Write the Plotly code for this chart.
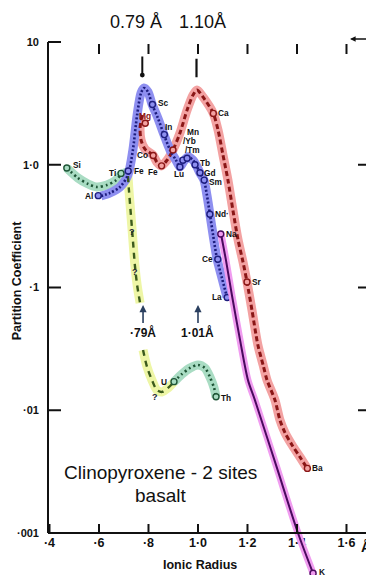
import math
import plotly.graph_objects as go

# ---------------- data (ionic radius in Å, partition coefficient) ----------------
blue_x = [0.608, 0.644, 0.685, 0.717, 0.737, 0.754, 0.770, 0.782, 0.798, 0.814, 0.838, 0.863,
          0.887, 0.911, 0.927, 0.943, 0.960, 0.980, 0.992, 1.008, 1.024, 1.036, 1.048, 1.061,
          1.077, 1.097, 1.117]
blue_y = [0.556, 0.589, 0.659, 0.826, 1.32, 2.54, 3.85, 4.22, 3.92, 3.13, 2.40, 1.75,
          1.32, 1.09, 0.96, 1.07, 1.16, 1.09, 1.00, 0.857, 0.751, 0.567, 0.397, 0.268,
          0.171, 0.119, 0.0837]

red_x = [0.774, 0.766, 0.770, 0.786, 0.818, 0.834, 0.851, 0.875, 0.899, 0.927, 0.956, 0.980,
         0.996, 1.020, 1.061, 1.081, 1.101, 1.121, 1.141, 1.162, 1.182, 1.198, 1.218, 1.242,
         1.263, 1.279, 1.311, 1.331, 1.352, 1.380, 1.412, 1.440]
red_y = [2.54, 1.99, 1.59, 1.34, 1.20, 1.05, 0.977, 1.09, 1.32, 1.81, 2.79, 3.70,
         4.06, 3.57, 2.64, 1.92, 1.20, 0.751, 0.428, 0.244, 0.161, 0.111, 0.0656, 0.034,
         0.0234, 0.0176, 0.0121, 0.00834, 0.00653, 0.00521, 0.00416, 0.00339]

purple_x = [1.093, 1.113, 1.137, 1.170, 1.202, 1.230, 1.319, 1.404, 1.465]
purple_y = [0.273, 0.167, 0.0869, 0.0373, 0.0176, 0.0121, 0.00339, 0.001, 0.00047]

green_x = [0.470, 0.515, 0.556, 0.592, 0.632, 0.665, 0.689, 0.713]
green_y = [0.94, 0.78, 0.697, 0.659, 0.684, 0.738, 0.826, 0.873]

yellow_x = [0.717, 0.721, 0.729, 0.737, 0.745, 0.754, 0.766, None,
            0.778, 0.794, 0.814, 0.834, 0.855, 0.879, 0.903]
yellow_y = [0.81, 0.623, 0.39, 0.244, 0.152, 0.105, 0.0748, None,
            0.031, 0.0226, 0.0176, 0.0146, 0.0141, 0.0152, 0.017]

teal_x = [0.903, 0.935, 0.968, 1.000, 1.028, 1.048, 1.065, 1.073]
teal_y = [0.017, 0.0197, 0.0221, 0.0234, 0.0221, 0.0187, 0.0152, 0.0128]

# element points
blue_names = ["Al", "Fe", "Sc", "In", "Lu", "Yb", "Tm", "Tb", "Gd", "Sm", "Nd", "Ce", "La"]
blue_px = [0.597, 0.718, 0.816, 0.864, 0.927, 0.939, 0.956, 0.988, 1.008, 1.025, 1.048, 1.080, 1.118]
blue_py = [0.56, 0.889, 3.10, 1.76, 0.96, 1.09, 1.13, 1.00, 0.86, 0.75, 0.395, 0.17, 0.083]

red_names = ["Mg", "Co", "Fe", "Mn", "Ca", "Sr", "Ba"]
red_px = [0.787, 0.819, 0.853, 0.899, 1.062, 1.198, 1.442]
red_py = [2.18, 1.19, 0.98, 1.32, 2.62, 0.111, 0.00336]

purple_names = ["Na", "K"]
purple_px = [1.092, 1.465]
purple_py = [0.273, 0.00047]

green_names = ["Si", "Ti"]
green_px = [0.470, 0.689]
green_py = [0.94, 0.85]

teal_names = ["U", "Th"]
teal_px = [0.903, 1.073]
teal_py = [0.0171, 0.0129]

q_x = [0.732, 0.745, 0.828]
q_y = [0.285, 0.135, 0.0128]

x_tickvals = [0.4, 0.6, 0.8, 1.0, 1.2, 1.4, 1.6]
x_ticktext = ["·4", "·6", "·8", "1·0", "1·2", "1·4", "1·6"]
y_tickvals = [0.001, 0.01, 0.1, 1, 10]
y_ticktext = ["·001", "·01", "·1", "1·0", "10"]
top_tickvals = [0.6, 0.8, 1.0, 1.2, 1.4, 1.6]
right_tickvals = [1, 0.1, 0.01]

# ---------------- styling ----------------
FONT = "Liberation Sans"
NAVY, NAVY_H = "#1d1d7e", "#8e8ff0"
RED, RED_H = "#8a1616", "#f3a2a2"
PUR, PUR_H = "#4a0a5e", "#f09cf0"
GRN, GRN_H = "#1e5536", "#a9dcc3"
YEL, YEL_H = "#3b5a1c", "#eef6a6"
CLEAR = "rgba(0,0,0,0)"
INK = "#111"

W, H = 366, 567
ML, MR, MT, MB = 40, 4, 34, 0
PW, PH = W - ML - MR, H - MT - MB

XR = [0.394, 1.695]
YR = [-3.0, 1.0]          # main axis (0.001 .. 10)
YR_EXT = [-3.342, 1.0]    # extended axis for the line that runs below the frame
axis_pos = 42 / PH        # paper height of the bottom axis line

fig = go.Figure()


def curve(x, y, col, halo, dash, w=2.6, hw=9, yax="y"):
    fig.add_trace(go.Scatter(x=x, y=y, mode="lines", connectgaps=False, yaxis=yax,
                             line=dict(color=halo, width=hw, shape="spline", smoothing=0.8),
                             hoverinfo="skip", showlegend=False))
    return dict(x=x, y=y, col=col, dash=dash, w=w, yax=yax)


lines = [
    curve(green_x, green_y, GRN, GRN_H, "2px,3px"),
    curve(yellow_x, yellow_y, YEL, YEL_H, "6px,5px", w=2.4),
    curve(teal_x, teal_y, GRN, GRN_H, "2px,3px"),
    curve(red_x, red_y, RED, RED_H, "5px,3px", w=3),
    curve(purple_x, purple_y, PUR, PUR_H, "solid", w=2, hw=7, yax="y3"),
    curve(blue_x, blue_y, NAVY, NAVY_H, "2px,2px", w=2.6),
]
for L in lines:
    fig.add_trace(go.Scatter(x=L["x"], y=L["y"], mode="lines", connectgaps=False, yaxis=L["yax"],
                             line=dict(color=L["col"], width=L["w"], dash=L["dash"],
                                       shape="spline", smoothing=0.8),
                             hoverinfo="skip", showlegend=False))

series = [
    (green_names, green_px, green_py, GRN, GRN_H, "g", "y"),
    (teal_names, teal_px, teal_py, GRN, GRN_H, "t", "y"),
    (red_names, red_px, red_py, RED, RED_H, "r", "y"),
    (purple_names, purple_px, purple_py, PUR, PUR_H, "p", "y3"),
    (blue_names, blue_px, blue_py, NAVY, NAVY_H, "b", "y"),
]
for names, xs, ys, col, fill, key, yax in series:
    fig.add_trace(go.Scatter(x=xs, y=ys, mode="markers", yaxis=yax,
                             marker=dict(size=6, color=fill, line=dict(color=col, width=1.4)),
                             text=names, hoverinfo="text", showlegend=False))

# label placement (dx, dy in px; anchor)
label_style = {
    ("g", "Si"): (4, 3, "left"), ("g", "Ti"): (-3, 0, "right"),
    ("b", "Al"): (-3, 0, "right"), ("b", "Fe"): (4, 0, "left"), ("b", "Sc"): (4, 1, "left"),
    ("b", "In"): (4, 8, "center"), ("b", "Lu"): (-1, -7, "center"), ("b", "Yb"): (-2, 19, "left"),
    ("b", "Tm"): (-4, 8, "left"), ("b", "Tb"): (3, 2, "left"), ("b", "Gd"): (2, 0, "left"),
    ("b", "Sm"): (3, -2, "left"), ("b", "Nd"): (3, 0, "left"), ("b", "Ce"): (-3, 0, "right"),
    ("b", "La"): (-3, 0, "right"),
    ("r", "Mg"): (0, 7, "center"), ("r", "Co"): (-3, 0, "right"), ("r", "Fe"): (-2, -6, "right"),
    ("r", "Mn"): (12, 18, "left"), ("r", "Ca"): (3, 0, "left"), ("r", "Sr"): (3, 0, "left"),
    ("r", "Ba"): (3, 0, "left"),
    ("p", "Na"): (3, 0, "left"), ("p", "K"): (4, 1, "left"),
    ("t", "U"): (-5, 0, "right"), ("t", "Th"): (3, -1, "left"),
}
label_text = {"Yb": "/Yb", "Tm": "/Tm", "Nd": "Nd·"}

ann = []
for names, xs, ys, col, fill, key, yax in series:
    for n, xv, yv in zip(names, xs, ys):
        dx, dy, anc = label_style[(key, n)]
        ann.append(dict(x=xv, y=math.log10(yv), xref="x", yref=yax,
                        text="<b>" + label_text.get(n, n) + "</b>",
                        showarrow=False, xanchor=anc, yanchor="middle", xshift=dx, yshift=dy,
                        font=dict(family=FONT, size=8.3, color=RED if n == "Mg" else INK)))
for xv, yv in zip(q_x, q_y):
    ann.append(dict(x=xv, y=math.log10(yv), xref="x", yref="y", text="<b>?</b>", showarrow=False,
                    xanchor="center", yanchor="middle",
                    font=dict(family=FONT, size=9, color="#223")))

# arrows with radii
ann.append(dict(x=0.778, y=-1.1426, xref="x", yref="y", text="<b>·79Å</b>", showarrow=True,
                arrowhead=2, arrowsize=0.9, arrowwidth=1.6, ax=0, ay=27,
                xanchor="center", yanchor="middle",
                font=dict(family=FONT, size=12, color=INK)))
ann.append(dict(x=1.0, y=-1.1426, xref="x", yref="y", text="<b>1·01Å</b>", showarrow=True,
                arrowhead=2, arrowsize=0.9, arrowwidth=1.6, ax=0, ay=27,
                xanchor="center", yanchor="middle",
                font=dict(family=FONT, size=12, color=INK)))
# top marks
ann.append(dict(x=0.775, y=0.938, xref="x", yref="paper", text="", showarrow=True,
                arrowhead=6, arrowsize=0.6, arrowwidth=2, ax=0, ay=-20, arrowcolor=INK))
ann.append(dict(x=0.994, y=0.934, xref="x", yref="paper", text="", showarrow=True,
                arrowhead=0, arrowwidth=2.2, ax=0, ay=-20, arrowcolor=INK))
ann.append(dict(x=0.938, y=1.0056, xref="paper", yref="paper", text="", showarrow=True,
                arrowhead=2, arrowsize=0.7, arrowwidth=1.6, ax=18, ay=0, arrowcolor=INK))


def ptext(x, y, text, size, bold=False, angle=0):
    return dict(x=x, y=y, xref="paper", yref="paper",
                text=("<b>" + text + "</b>") if bold else text, showarrow=False,
                xanchor="center", yanchor="middle", textangle=angle,
                font=dict(family=FONT, size=size, color=INK))


ann += [
    ptext(0.272, 1.0375, "0.79 Å", 18),
    ptext(0.481, 1.0375, "1.10Å", 18),
    ptext(0.348, 0.193, "Clinopyroxene - 2 sites", 19),
    ptext(0.348, 0.150, "basalt", 19),
    ptext(0.472, 0.019, "Ionic Radius", 12.5, bold=True),
    ptext(-0.096, 0.553, "Partition Coefficient", 12.5, bold=True, angle=-90),
    ptext(0.988, 0.0525, "Å", 14, bold=True),
]


# ---------------- frame: axis lines and tick marks (from the tick arrays) ----------------
def ypaper(v):
    return axis_pos + (math.log10(v) - YR[0]) / (YR[1] - YR[0]) * (1 - axis_pos)


frame = [
    dict(type="line", xref="paper", yref="paper", x0=0, x1=0, y0=axis_pos, y1=1,
         line=dict(color=INK, width=2)),
    dict(type="line", xref="paper", yref="paper", x0=0, x1=1, y0=axis_pos, y1=axis_pos,
         line=dict(color=INK, width=2)),
]
for xv in x_tickvals:      # bottom ticks, pointing up
    frame.append(dict(type="line", xref="x", yref="paper", x0=xv, x1=xv,
                      y0=axis_pos, y1=axis_pos + 9 / PH, line=dict(color=INK, width=2)))
for xv in top_tickvals:    # top ticks, hanging down
    frame.append(dict(type="line", xref="x", yref="paper", x0=xv, x1=xv,
                      y0=1 - 2 / PH, y1=1 - 12 / PH, line=dict(color=INK, width=2)))
for yv in y_tickvals:      # left ticks, pointing right
    frame.append(dict(type="line", xref="paper", yref="paper", x0=0, x1=13 / PW,
                      y0=ypaper(yv), y1=ypaper(yv), line=dict(color=INK, width=2)))
for yv in right_tickvals:  # right ticks, pointing left
    frame.append(dict(type="line", xref="paper", yref="paper", x0=1 - 12 / PW, x1=1 - 1 / PW,
                      y0=ypaper(yv), y1=ypaper(yv), line=dict(color=INK, width=2)))

fig.update_layout(
    width=W, height=H,
    margin=dict(l=ML, r=MR, t=MT, b=MB, autoexpand=False),
    paper_bgcolor="white", plot_bgcolor=CLEAR,
    showlegend=False,
    xaxis=dict(range=XR, anchor="y", showline=False, ticks="",
               tickvals=x_tickvals, ticktext=["<b>" + t + "</b>" for t in x_ticktext],
               gridcolor=CLEAR, zeroline=False,
               tickfont=dict(family=FONT, size=12.5, color=INK)),
    yaxis=dict(type="log", range=YR, domain=[axis_pos, 1], anchor="x", showline=False,
               ticks="", tickvals=y_tickvals,
               ticktext=["<b>" + t + "</b>" for t in y_ticktext],
               gridcolor=CLEAR, ticklabelstandoff=8,
               tickfont=dict(family=FONT, size=11, color=INK)),
    yaxis3=dict(type="log", range=YR_EXT, domain=[0, 1], anchor="x", visible=False),
    shapes=frame,
    annotations=ann,
)

fig.write_html("out.html")
